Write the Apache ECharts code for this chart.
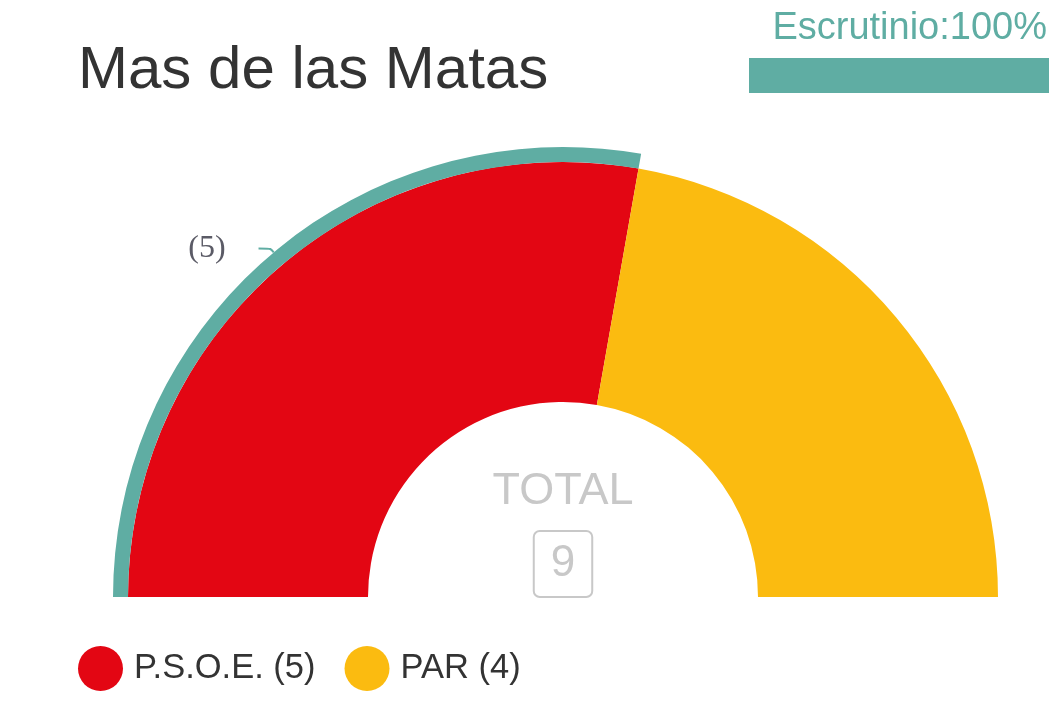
<!DOCTYPE html>
<html>
<head>
<meta charset="utf-8">
<script src="https://cdn.jsdelivr.net/npm/echarts@6/dist/echarts.min.js"></script>
<style>
  html, body { margin: 0; padding: 0; background: #fff; }
  #main { width: 1054px; height: 702px; }
</style>
</head>
<body>
<div id="main"></div>
<script>
// datos del municipio
const municipio = 'Mas de las Matas';
const partidos = ['P.S.O.E.', 'PAR'];
const concejales = [5, 4];
const escrutinio = 100;

const colores = ['#e30613', '#fbbb10'];
const teal = '#5fada3';
const fuente = '"Liberation Sans", Arial, sans-serif';

const total = concejales.reduce((a, b) => a + b, 0);

let chart = echarts.init(document.getElementById('main'));

chart.setOption({
  animation: false,
  title: [
    {
      text: municipio,
      left: 78,
      top: 41,
      padding: 0,
      textStyle: { fontFamily: fuente, fontSize: 60, fontWeight: 'normal', color: '#333' }
    },
    {
      text: 'Escrutinio:' + escrutinio + '%',
      right: 7,
      top: 10,
      padding: 0,
      textStyle: { fontFamily: fuente, fontSize: 38, fontWeight: 'normal', color: teal }
    }
  ],
  legend: {
    data: partidos,
    left: 73,
    top: 641,
    icon: 'circle',
    itemWidth: 45,
    itemHeight: 45,
    itemGap: 29,
    selectedMode: false,
    formatter: function (name) {
      return name + ' (' + concejales[partidos.indexOf(name)] + ')';
    },
    textStyle: { fontFamily: fuente, fontSize: 34.5, color: '#333', padding: [0, 0, 0, 6] }
  },
  // barra de escrutinio
  grid: { left: 749, top: 58, width: 300, height: 35 },
  xAxis: { type: 'value', min: 0, max: 100, show: false },
  yAxis: { type: 'category', data: ['escrutinio'], show: false },
  graphic: [
    {
      type: 'text',
      style: {
        text: 'TOTAL',
        x: 563,
        y: 492,
        align: 'center',
        verticalAlign: 'middle',
        fontFamily: fuente,
        fontSize: 45,
        fill: '#c8c8c8'
      }
    },
    {
      type: 'text',
      style: {
        text: String(total),
        x: 563,
        y: 564,
        align: 'center',
        verticalAlign: 'middle',
        fontFamily: fuente,
        fontSize: 44,
        lineHeight: 44,
        fill: '#c8c8c8',
        borderColor: '#c8c8c8',
        borderWidth: 2,
        borderRadius: 6,
        padding: [11, 17, 11, 17]
      }
    }
  ],
  series: [
    {
      type: 'pie',
      center: [563, 597],
      radius: [195, 435],
      startAngle: 180,
      endAngle: 0,
      silent: true,
      label: { show: false },
      labelLine: { show: false },
      data: partidos.map((p, i) => ({
        name: p,
        value: concejales[i],
        itemStyle: { color: colores[i] }
      }))
    },
    {
      type: 'pie',
      center: [563, 597],
      radius: [435, 450],
      startAngle: 180,
      endAngle: 0,
      silent: true,
      data: [
        {
          name: 'sel',
          value: concejales[0],
          itemStyle: { color: teal },
          label: {
            show: true,
            position: 'outside',
            formatter: '(' + concejales[0] + ')',
            fontFamily: '"Liberation Serif", "DejaVu Serif", serif',
            fontSize: 32,
            color: '#5b5b66',
            padding: [8, 0, 0, 0],
            distanceToLabelLine: 33
          },
          labelLine: {
            show: true,
            length: 5,
            length2: 12,
            smooth: true,
            lineStyle: { color: teal, width: 2 }
          }
        },
        {
          name: 'resto',
          value: concejales[1],
          itemStyle: { color: 'rgba(0,0,0,0)' },
          label: { show: false },
          labelLine: { show: false }
        }
      ]
    },
    {
      type: 'bar',
      data: [escrutinio],
      barWidth: 35,
      silent: true,
      itemStyle: { color: teal }
    }
  ]
});
</script>
</body>
</html>
